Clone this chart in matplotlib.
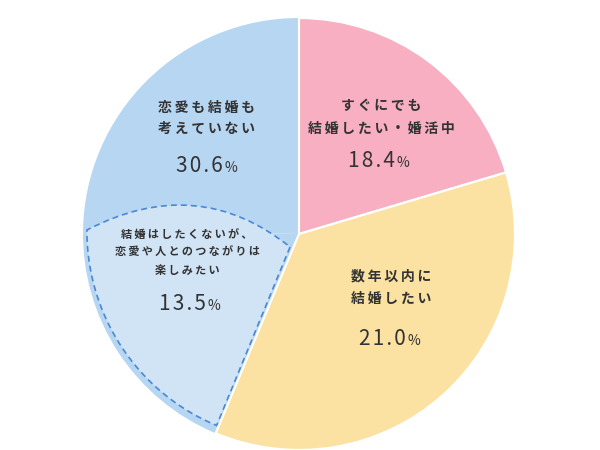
import numpy as np
import matplotlib
matplotlib.use("Agg")
import matplotlib.pyplot as plt
from matplotlib.path import Path
from matplotlib.patches import PathPatch

plt.rcParams['font.family'] = ['Noto Sans CJK JP', 'DejaVu Sans']

# wedge shares as drawn in the picture (clockwise from 12 o'clock)
shares = [20.4, 35.9, 19.0, 24.7]
# labels and the percentages printed in the chart
labels = [
    ["すぐにでも", "結婚したい・婚活中"],
    ["数年以内に", "結婚したい"],
    ["結婚はしたくないが、", "恋愛や人とのつながりは", "楽しみたい"],
    ["恋愛も結婚も", "考えていない"],
]
percents = ["18.4", "21.0", "13.5", "30.6"]

colors = ['#f7afc1', '#fbe2a2', '#b7d6f2', '#b7d6f2']
light = '#d0e4f6'
dash_col = '#4a88d4'
txt_col = '#333333'

fig = plt.figure(figsize=(6, 4.5), dpi=100)
ax = fig.add_axes([0, 0, 1, 1])

wedges, _ = ax.pie(shares, colors=colors, startangle=90, counterclock=False,
                   radius=1, center=(0, 0),
                   wedgeprops=dict(edgecolor='white', linewidth=1.6))
# blue wedges without edge so the two blue parts join; pink/yellow on top
for i, w in enumerate(wedges):
    if i >= 2:
        w.set_linewidth(0)
        w.set_zorder(1)
    else:
        w.set_zorder(2)

# dashed inner region of the third wedge
w3 = wedges[2]
a1, a2 = w3.theta1, w3.theta2


def polar(r, a):
    return (r * np.cos(np.radians(a)), r * np.sin(np.radians(a)))


inner = polar(0.073, a2 - 12)
ctrl = polar(0.55, a1 - 30)
arc_a = np.linspace(a2 - 0.6, a1, 60)
arc_r = np.linspace(0.965, 0.982, 60)
verts = [inner] + [polar(r, a) for r, a in zip(arc_r, arc_a)] + [ctrl, inner]
codes = [Path.MOVETO] + [Path.LINETO] * len(arc_a) + [Path.CURVE3, Path.CURVE3]
patch = PathPatch(Path(verts, codes), facecolor=light, edgecolor=dash_col,
                  linewidth=1.2, linestyle=(0, (3.6, 2.4)), zorder=1.5)
ax.add_patch(patch)

# layout in pixels: centre (299, 234), radius 216
cx, cy, R = 299, 234, 216


def to_data(px, py):
    return (px - cx) / R, (cy - py) / R


label_pos = [(381, [106, 129]), (391, [277, 298.5]),
             (187, [234, 252, 270]), (207, [108, 128.5])]
num_pos = [(371.5, 167), (382, 345), (182, 310), (199.5, 172)]
label_size = [10, 10, 8, 10]

for lab, (lx, lys), size in zip(labels, label_pos, label_size):
    for line, ly in zip(lab, lys):
        x, y = to_data(lx, ly)
        ax.text(x, y, '\u2009'.join(line), ha='center', va='center',
                fontsize=size, fontweight='bold', color=txt_col, zorder=5)

for p, (nx, ny) in zip(percents, num_pos):
    x, y = to_data(nx, ny)
    t = ax.text(x, y, '\u200a'.join(p), ha='center', va='baseline',
                fontsize=15, color=txt_col, zorder=5)
    ax.annotate('%', xy=(1, y), xycoords=(t, 'data'), xytext=(1.2, 0),
                textcoords='offset points', ha='left', va='baseline',
                fontsize=10, color=txt_col, zorder=5)

ax.set_xlim(-cx / R, (600 - cx) / R)
ax.set_ylim(-(450 - cy) / R, cy / R)
ax.set_aspect('auto')
ax.axis('off')

fig.savefig('out.png', dpi=100)
